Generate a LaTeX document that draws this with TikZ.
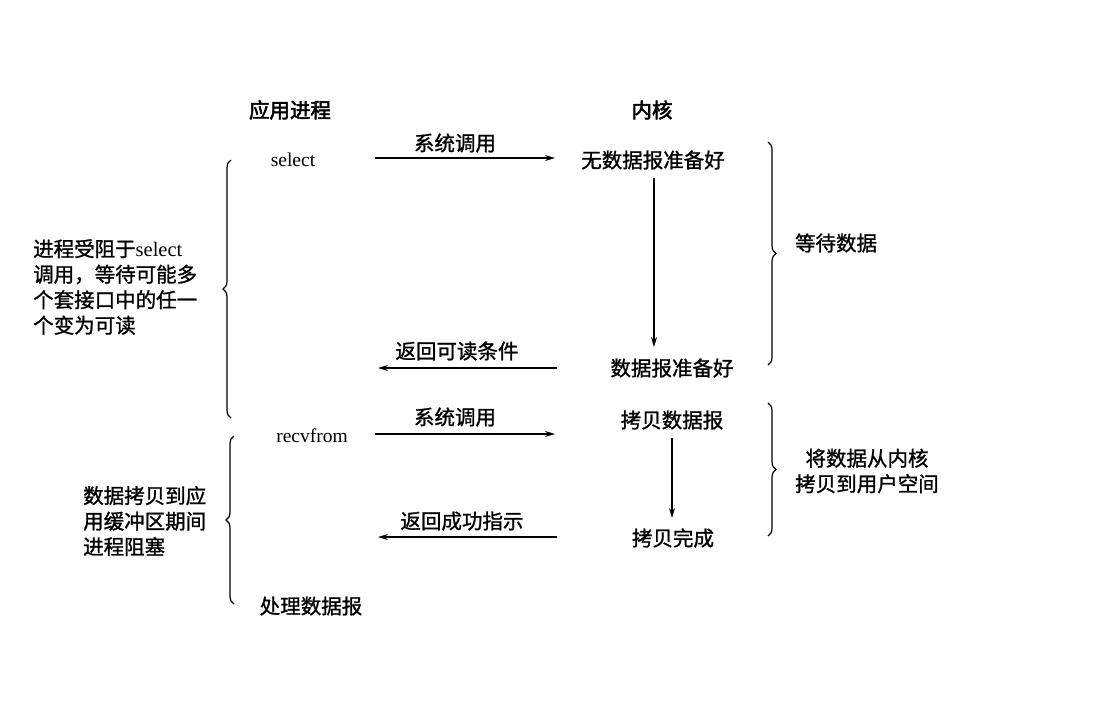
\documentclass[tikz,border=0pt]{standalone}
\usepackage{fontspec}
\setmainfont{Noto Sans CJK SC}[FakeBold=1.2]
\newfontfamily\lat{Liberation Serif}
\newfontfamily\hdrfont{Noto Sans CJK SC}[FakeBold=2.5]
\usetikzlibrary{arrows.meta,decorations.pathreplacing}
\tikzset{
  txt/.style={inner sep=0pt, font=\fontsize{20.5}{25.5}\selectfont},
  hdr/.style={inner sep=0pt, font=\fontsize{20.5}{25.5}\selectfont\hdrfont},
  lbl/.style={inner sep=0pt, font=\fontsize{19.5}{25}\selectfont\lat},
  arr/.style={line width=1.3pt, -{Stealth[length=10pt,width=6pt]}},
  brc/.style={line width=1.2pt, decorate, decoration={brace, amplitude=8pt}},
}
\begin{document}
\begin{tikzpicture}[x=1pt,y=-1pt]
\useasboundingbox (0,0) rectangle (1099,718);
% headers
\node[hdr] (happ) at (290,110) {应用进程};
\node[hdr] (hker) at (652,110) {内核};
% left column
\node[lbl] (select) at (293,160) {select};
\node[lbl] (recv) at (312,436) {recvfrom};
\node[txt] (proc) at (311,606) {处理数据报};
% kernel column
\node[txt] (nowait) at (653,160) {无数据报准备好};
\node[txt] (ready) at (672,368) {数据报准备好};
\node[txt] (copy) at (672,420) {拷贝数据报};
\node[txt] (done) at (673,538) {拷贝完成};
% arrow end points
\coordinate (a1s) at (375,158); \coordinate (a1e) at (555,158);
\coordinate (a2s) at (557,368); \coordinate (a2e) at (378,368);
\coordinate (a3s) at (375,434); \coordinate (a3e) at (555,434);
\coordinate (a4s) at (557,537); \coordinate (a4e) at (378,537);
\coordinate (v1s) at (654,178); \coordinate (v1e) at (654,347);
\coordinate (v2s) at (672,438); \coordinate (v2e) at (672,518);
\draw[arr] (a1s) -- (a1e);
\draw[arr] (a2s) -- (a2e);
\draw[arr] (a3s) -- (a3e);
\draw[arr] (a4s) -- (a4e);
\draw[arr] (v1s) -- (v1e);
\draw[arr] (v2s) -- (v2e);
% arrow labels
\node[txt] (l1) at (455,143) {系统调用};
\node[txt] (l2) at (457,351) {返回可读条件};
\node[txt] (l3) at (455,417) {系统调用};
\node[txt] (l4) at (462,521) {返回成功指示};
% braces
\coordinate (r1t) at (768,142); \coordinate (r1b) at (768,365);
\coordinate (r2t) at (768,403); \coordinate (r2b) at (768,536);
\coordinate (q1t) at (231,160); \coordinate (q1b) at (231,418);
\coordinate (q2t) at (234,436); \coordinate (q2b) at (234,604);
\draw[brc] (r1t) -- (r1b);
\draw[brc] (r2t) -- (r2b);
\draw[brc] (q1b) -- (q1t);
\draw[brc] (q2b) -- (q2t);
% brace texts
\node[txt] (wait) at (836,243) {等待数据};
\node[txt, align=center] (kcopy) at (867,471) {将数据从内核\\拷贝到用户空间};
\node[txt, align=left, anchor=west] (blk1) at (33,287) {进程受阻于{\lat select}\\调用，等待可能多\\个套接口中的任一\\个变为可读};
\node[txt, align=left, anchor=west] (blk2) at (83,521) {数据拷贝到应\\用缓冲区期间\\进程阻塞};
\end{tikzpicture}
\end{document}
